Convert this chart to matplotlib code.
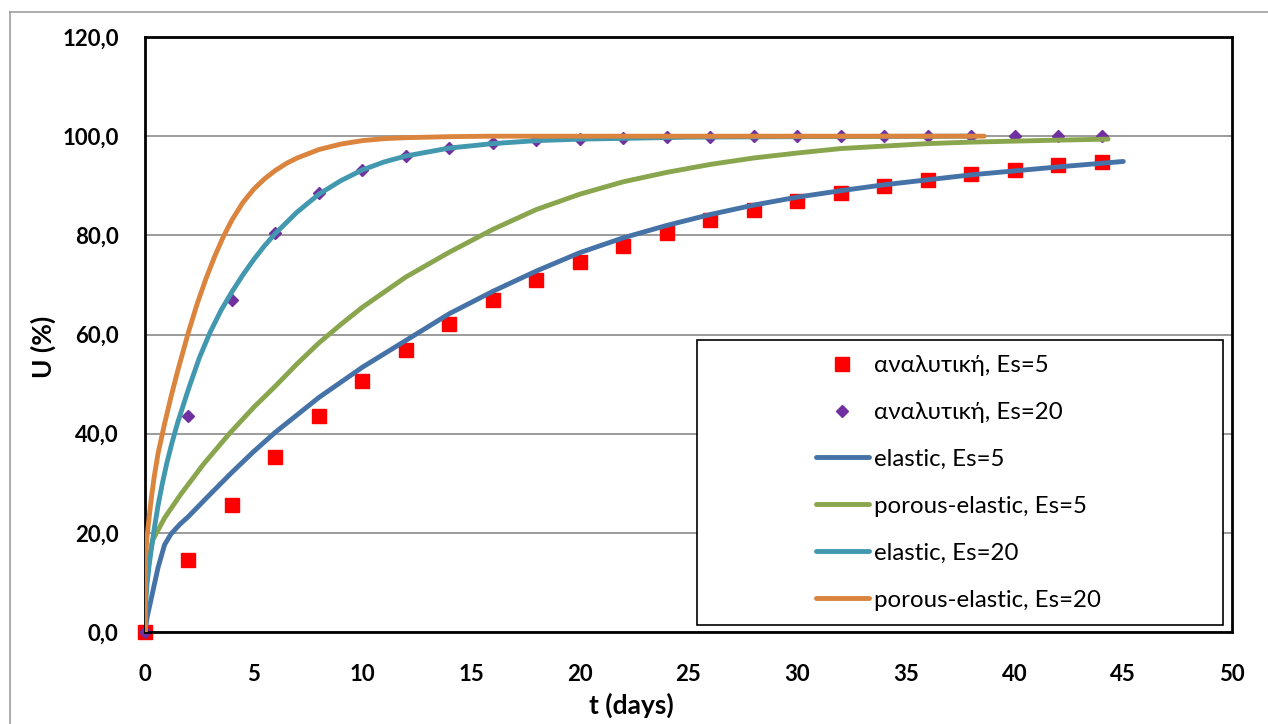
import numpy as np
import matplotlib.pyplot as plt
from matplotlib.patches import Rectangle
from matplotlib.lines import Line2D

# analytical points (every 2 days)
t_an = [0, 2, 4, 6, 8, 10, 12, 14, 16, 18, 20, 22, 24, 26, 28, 30, 32, 34, 36, 38, 40, 42, 44]
u_an5 = [0, 14.5, 25.7, 35.3, 43.5, 50.6, 56.8, 62.2, 67.0, 71.0, 74.6, 77.8, 80.5, 83.0,
         85.05, 86.9, 88.5, 89.9, 91.2, 92.3, 93.2, 94.1, 94.8]
u_an20 = [0, 43.5, 66.9, 80.5, 88.5, 93.2, 96.0, 97.7, 98.6, 99.2, 99.5, 99.7, 99.8, 99.9,
          99.95, 100, 100, 100, 100, 100, 100, 100, 100]

# elastic, Es=5
t_el5 = [0, 0.1, 0.3, 0.6, 0.9, 1.2, 1.6, 2, 3, 4, 5, 6, 8, 10, 12, 14, 16, 18, 20, 22, 24,
         26, 28, 30, 32, 34, 36, 38, 40, 42, 45]
u_el5 = [0, 3, 7, 13, 17.6, 19.8, 21.7, 23.3, 27.8, 32.2, 36.4, 40.3, 47.3, 53.4, 58.8, 64.2,
         68.7, 72.8, 76.5, 79.5, 82.0, 84.2, 86.1, 87.7, 89.0, 90.2, 91.2, 92.2, 93.0, 93.8, 94.9]

# porous-elastic, Es=5
t_pe5 = [0, 0.05, 0.35, 0.9, 1.65, 2.7, 3.9, 5, 6, 7, 8, 9, 10, 12, 14, 16, 18, 20, 22, 24,
         26, 28, 30, 32, 34, 36, 38, 40, 42, 44.3]
u_pe5 = [0, 12, 18.5, 23, 27.8, 33.9, 40.1, 45.3, 49.6, 54.1, 58.3, 62.0, 65.5, 71.6, 76.6,
         81.2, 85.2, 88.3, 90.8, 92.7, 94.3, 95.6, 96.6, 97.5, 98.0, 98.5, 98.8, 99.0, 99.2, 99.4]

# elastic, Es=20
t_el20 = [0, 0.05, 0.1, 0.2, 0.3, 0.45, 0.6, 0.8, 1.0, 1.25, 1.5, 2, 2.5, 3, 3.5, 4, 4.5,
          5, 5.5, 6, 7, 8, 9, 10, 11, 12, 14, 16, 18, 20, 25, 30, 38]
u_el20 = [0, 7, 10, 13.8, 17, 21.5, 25.5, 30, 34, 38.3, 42.2, 49, 55.3, 60.5, 64.9, 68.6,
          72.0, 75.1, 77.9, 80.4, 84.7, 88.3, 91.0, 93.2, 94.8, 96.0, 97.6, 98.5, 99.1, 99.4,
          99.8, 99.9, 100]

# porous-elastic, Es=20
t_pe20 = [0, 0.02, 0.1, 0.2, 0.3, 0.43, 0.6, 0.9, 1.2, 1.5, 2, 2.4, 2.8, 3.2, 3.6, 4.0, 4.5,
          5.0, 5.5, 6, 6.5, 7, 8, 9, 10, 11, 12, 14, 16, 20, 25, 30, 38.6]
u_pe20 = [0, 15, 19.5, 23.5, 27.3, 31.5, 36, 42, 47.5, 52.6, 60.5, 66.2, 71.2, 75.7, 79.7,
          83.1, 86.6, 89.3, 91.4, 93.1, 94.5, 95.6, 97.3, 98.4, 99.1, 99.5, 99.7, 99.9, 100,
          100, 100, 100, 100]

x_ticks = [0, 5, 10, 15, 20, 25, 30, 35, 40, 45, 50]
y_ticks = [0, 20, 40, 60, 80, 100, 120]
y_labels = ['0,0', '20,0', '40,0', '60,0', '80,0', '100,0', '120,0']

plt.rcParams['font.family'] = ['Lato', 'Noto Sans', 'DejaVu Sans']

fig = plt.figure(figsize=(12.68, 7.24), dpi=100)
W, H = 1268, 724
ax = fig.add_axes([145 / W, 1 - 632 / H, 1087 / W, 595 / H])

ax.plot(t_an, u_an5, 's', color='#FF0000', ms=10, zorder=2, clip_on=False,
        label='αναλυτική, Es=5')
ax.plot(t_an, u_an20, 'D', color='#7030A0', ms=6.5, zorder=2, clip_on=False,
        label='αναλυτική, Es=20')
ax.plot(t_el5, u_el5, color='#4572A7', lw=3.5, zorder=3, solid_capstyle='round',
        solid_joinstyle='round', label='elastic, Es=5')
ax.plot(t_pe5, u_pe5, color='#89A54E', lw=3.5, zorder=3, solid_capstyle='round',
        solid_joinstyle='round', label='porous-elastic, Es=5')
ax.plot(t_el20, u_el20, color='#4198AF', lw=3.5, zorder=3, solid_capstyle='round',
        solid_joinstyle='round', label='elastic, Es=20')
ax.plot(t_pe20, u_pe20, color='#DB843D', lw=3.5, zorder=3, solid_capstyle='round',
        solid_joinstyle='round', label='porous-elastic, Es=20')

ax.set_xlim(0, 50)
ax.set_ylim(0, 120)
ax.set_xticks(x_ticks)
ax.set_xticklabels([str(v) for v in x_ticks])
ax.set_yticks(y_ticks)
ax.set_yticklabels(y_labels)
ax.tick_params(length=0, labelsize=16)
ax.tick_params(axis='x', pad=23)
ax.tick_params(axis='y', pad=19)
for lab in ax.get_xticklabels() + ax.get_yticklabels():
    lab.set_fontweight('bold')
ax.grid(axis='y', color='#8a8a8a', lw=1.2)
ax.set_axisbelow(True)
for s in ax.spines.values():
    s.set_linewidth(2.0)
    s.set_color('black')

fig.text(631 / W, 1 - 705 / H, 't (days)', ha='center', va='center',
         fontsize=19, fontweight='bold')
fig.text(43 / W, 1 - 347 / H, 'U (%)', ha='center', va='center', rotation=90,
         fontsize=19, fontweight='bold')

# legend box
ax.add_patch(Rectangle((697 / W, 1 - 625 / H), 526 / W, 285 / H, transform=fig.transFigure,
                       facecolor='white', edgecolor='black', lw=1.2, zorder=4, clip_on=False))
leg = ax.legend(loc='upper left', bbox_to_anchor=(816 / W, 1 - 355 / H),
                bbox_transform=fig.transFigure, frameon=False, fontsize=17.3,
                handlelength=2.2, handletextpad=0.2, labelspacing=1.08,
                borderaxespad=0, borderpad=0)
leg.set_zorder(5)

# outer chart border
fig.add_artist(Line2D([10 / W, 10 / W], [0, 1 - 12 / H], color='#a0a0a0', lw=1.2))
fig.add_artist(Line2D([10 / W, 1], [1 - 12 / H, 1 - 12 / H], color='#a0a0a0', lw=1.2))

plt.savefig('out.png', dpi=100)
